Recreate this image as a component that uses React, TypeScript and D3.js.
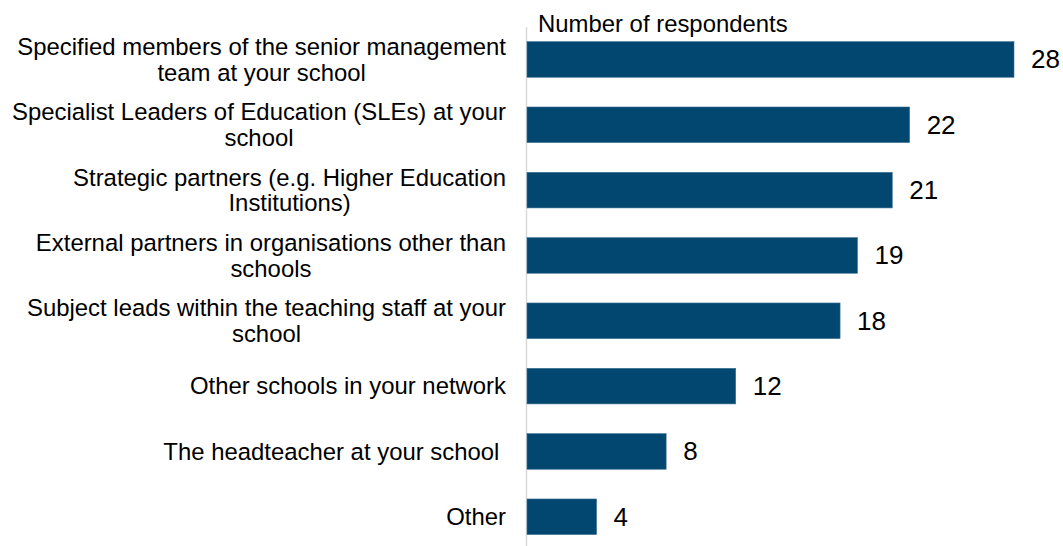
import React, { useEffect, useRef } from "react";
import * as d3 from "d3";

const categories: string[] = [
  "Specified members of the senior management\nteam at your school",
  "Specialist Leaders of Education (SLEs) at your\nschool",
  "Strategic partners (e.g. Higher Education\nInstitutions)",
  "External partners in organisations other than\nschools",
  "Subject leads within the teaching staff at your\nschool",
  "Other schools in your network",
  "The headteacher at your school ",
  "Other",
];
const values: number[] = [28, 22, 21, 19, 18, 12, 8, 4];
const axisTitle = "Number of respondents";

const W = 1063;
const H = 546;
const FONT = "'Liberation Sans', Arial, Helvetica, sans-serif";
const BAR = "#02476f";

export default function App() {
  const ref = useRef<SVGSVGElement>(null);

  useEffect(() => {
    const svg = d3.select(ref.current);
    svg.selectAll("*").remove();

    const x = d3.scaleLinear().domain([0, 28]).range([527, 1014]);
    const y = d3
      .scaleBand<string>()
      .domain(categories)
      .range([26.8, 26.8 + 8 * 65.33])
      .paddingInner(0.455)
      .paddingOuter(0.2275);

    // axis line
    svg
      .append("line")
      .attr("x1", x(0) - 0.5)
      .attr("x2", x(0) - 0.5)
      .attr("y1", 27)
      .attr("y2", H)
      .attr("stroke", "#d9d9d9")
      .attr("stroke-width", 1.5);

    // bars
    svg
      .append("g")
      .selectAll("rect")
      .data(categories)
      .join("rect")
      .attr("x", x(0))
      .attr("y", (d) => y(d)!)
      .attr("width", (d, i) => x(values[i]) - x(0))
      .attr("height", y.bandwidth())
      .attr("fill", BAR)
      .attr("stroke", "#3d7196")
      .attr("stroke-width", 0.6);

    // value labels
    svg
      .append("g")
      .selectAll("text")
      .data(categories)
      .join("text")
      .attr("x", (d, i) => x(values[i]) + 17)
      .attr("y", (d) => y(d)! + y.bandwidth() / 2 + 9)
      .attr("font-family", FONT)
      .attr("font-size", 26)
      .attr("fill", "#000")
      .text((d, i) => String(values[i]));

    // category labels
    const right = 506;
    const LH = 25.5;
    const lg = svg.append("g");
    categories.forEach((c) => {
      const lines = c.split("\n");
      const cy = y(c)! + y.bandwidth() / 2;
      const t = lg
        .append("text")
        .attr("font-family", FONT)
        .attr("font-size", 23.9)
        .attr("fill", "#000")
        .attr("text-anchor", "middle")
        .attr("xml:space", "preserve")
        .style("white-space", "pre");
      const tspans = lines.map((ln, i) =>
        t
          .append("tspan")
          .attr("y", cy + (i - (lines.length - 1) / 2) * LH + 8.3)
          .text(ln)
      );
      let maxW = 0;
      tspans.forEach((ts) => {
        const node = ts.node() as SVGTSpanElement;
        const w = node.getComputedTextLength();
        if (w > maxW) maxW = w;
      });
      tspans.forEach((ts) => ts.attr("x", right - maxW / 2));
    });

    // axis title
    svg
      .append("text")
      .attr("x", 538)
      .attr("y", 32)
      .attr("font-family", FONT)
      .attr("font-size", 23.9)
      .attr("fill", "#000")
      .text(axisTitle);
  }, []);

  return (
    <svg
      ref={ref}
      width={W}
      height={H}
      style={{ position: "absolute", left: 0, top: 0, background: "#fff", display: "block" }}
    />
  );
}
